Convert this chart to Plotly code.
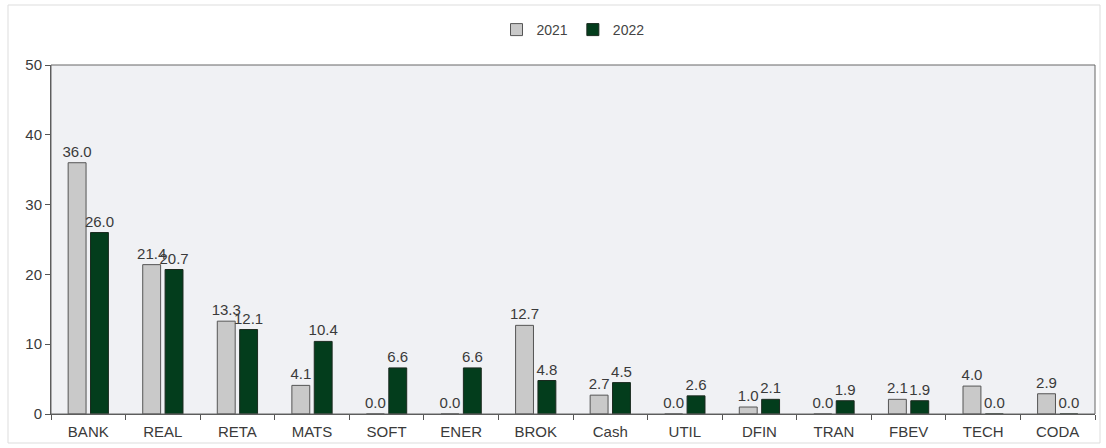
import plotly.graph_objects as go

categories = ["BANK", "REAL", "RETA", "MATS", "SOFT", "ENER", "BROK", "Cash",
              "UTIL", "DFIN", "TRAN", "FBEV", "TECH", "CODA"]
values_2021 = [36.0, 21.4, 13.3, 4.1, 0.0, 0.0, 12.7, 2.7, 0.0, 1.0, 0.0, 2.1, 4.0, 2.9]
values_2022 = [26.0, 20.7, 12.1, 10.4, 6.6, 6.6, 4.8, 4.5, 2.6, 2.1, 1.9, 1.9, 0.0, 0.0]

FAM = "Liberation Sans, Arial, sans-serif"
font = dict(family=FAM, size=15, color="#3a3a3a")

fig = go.Figure()
fig.add_trace(go.Bar(
    name="2021", x=categories, y=values_2021,
    marker=dict(color="#c9c9c9", line=dict(color="#555555", width=1)),
    text=[f"{v:.1f}" for v in values_2021], textposition="outside",
    textfont=font, constraintext="none", cliponaxis=False,
))
fig.add_trace(go.Bar(
    name="2022", x=categories, y=values_2022,
    marker=dict(color="#033d1c", line=dict(color="#1a2a1f", width=1)),
    text=[f"{v:.1f}" for v in values_2022], textposition="outside",
    textfont=font, constraintext="none", cliponaxis=False,
))

W, H = 1106, 448
L, R, T, B = 51, 11, 65, 34
pw, ph = W - L - R, H - T - B

fig.update_layout(
    width=W, height=H,
    margin=dict(l=L, r=R, t=T, b=B, autoexpand=False),
    paper_bgcolor="white",
    plot_bgcolor="#f0f1f4",
    barmode="group", bargap=0.4, bargroupgap=0.2,
    font=font,
    showlegend=True,
    legend=dict(orientation="h", x=0.5, xanchor="center", y=1 - 30 / H, yanchor="middle",
                yref="container", font=dict(family=FAM, size=14, color="#444444"),
                itemwidth=30, traceorder="normal", bgcolor="rgba(0,0,0,0)"),
)

fig.update_xaxes(
    showline=True, linecolor="#555555", linewidth=1,
    ticks="outside", tickson="boundaries", ticklen=5, tickcolor="#555555",
    showgrid=False, tickfont=font, automargin=False, ticklabelstandoff=4,
)
fig.update_yaxes(
    range=[0, 50], dtick=10, showline=True, linecolor="#555555", linewidth=1,
    ticks="outside", ticklen=5, tickcolor="#555555", showgrid=False,
    tickfont=font, zeroline=False, automargin=False,
)
# plot-area frame (top and right edges)
fig.add_shape(type="rect", xref="paper", yref="paper", x0=0, x1=1, y0=0, y1=1,
              line=dict(color="#666666", width=1), fillcolor="rgba(0,0,0,0)", layer="above")
# faint outer chart border
fig.add_shape(type="rect", xref="paper", yref="paper",
              x0=-(L - 8) / pw, x1=(pw + 5) / pw, y0=-(B - 5) / ph, y1=1 + (T - 5) / ph,
              line=dict(color="#dddddd", width=1), fillcolor="rgba(0,0,0,0)", layer="below")

fig.write_html("out.html", config={"displayModeBar": False},
               post_script="document.body.style.margin='0';document.body.style.padding='0';")
